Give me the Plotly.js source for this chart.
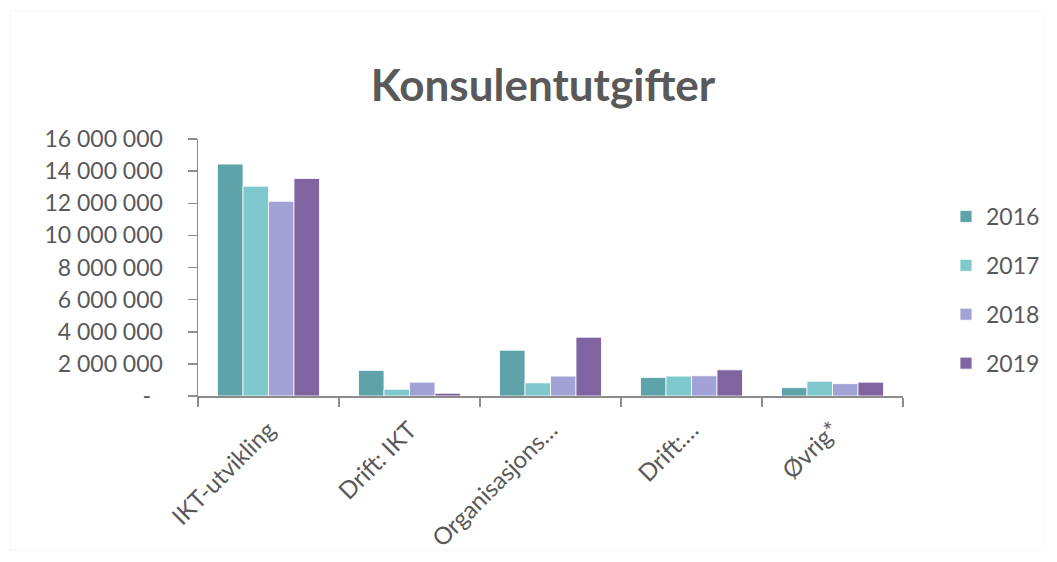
<!DOCTYPE html>
<html>
<head>
<meta charset="utf-8">
<script src="https://cdn.plot.ly/plotly-3.0.1.min.js"></script>
<style>html,body{margin:0;padding:0;background:#fff;}#chart{width:1057px;height:562px;}</style>
</head>
<body>
<div id="chart"></div>
<script>
const categories = ["IKT-utvikling", "Drift: IKT", "Organisasjons…", "Drift:…", "Øvrig*"];
const years = ["2016", "2017", "2018", "2019"];
const v2016 = [14440000, 1590000, 2850000, 1150000, 520000];
const v2017 = [13060000, 420000, 820000, 1240000, 920000];
const v2018 = [12120000, 860000, 1240000, 1260000, 770000];
const v2019 = [13540000, 170000, 3660000, 1630000, 860000];
const yTickVals = [0, 2000000, 4000000, 6000000, 8000000, 10000000, 12000000, 14000000, 16000000];
const yTickText = ["-\u00a0\u00a0", "2 000 000", "4 000 000", "6 000 000", "8 000 000", "10 000 000", "12 000 000", "14 000 000", "16 000 000"];

const colors = ["#5FA3AA", "#7FC8CD", "#A2A2D6", "#8064A2"];
const series = [v2016, v2017, v2018, v2019];
const font = "Lato, 'Open Sans', sans-serif";
const grey = "#595959";

const traces = series.map((vals, i) => ({
  type: "bar",
  name: years[i],
  x: categories,
  y: vals,
  legendgroup: years[i],
  marker: {color: colors[i], line: {color: "rgba(255,255,255,0.8)", width: 1}},
  hoverinfo: "x+y+name"
}));

const layout = {
  width: 1057,
  height: 562,
  margin: {l: 198, r: 154, t: 139, b: 166},
  paper_bgcolor: "#ffffff",
  plot_bgcolor: "#ffffff",
  barmode: "group",
  bargap: 0.277,
  bargroupgap: 0,
  font: {family: font, color: grey, size: 22},
  title: {
    text: "<b>Konsulentutgifter</b>",
    font: {family: font, size: 44, color: grey},
    x: 543 / 1057, xref: "container", xanchor: "center",
    y: 1 - 86 / 562, yref: "container", yanchor: "middle"
  },
  xaxis: {
    type: "category",
    tickson: "boundaries",
    ticks: "outside",
    ticklen: 9,
    tickwidth: 1.5,
    tickcolor: "#8C8C8C",
    showline: true,
    linecolor: "#8C8C8C",
    linewidth: 1.5,
    showgrid: false,
    tickangle: -45,
    ticklabelstandoff: 9,
    tickfont: {family: font, size: 24, color: grey},
    automargin: false
  },
  yaxis: {
    range: [0, 16000000],
    tickvals: yTickVals,
    ticktext: yTickText,
    ticks: "outside",
    ticklen: 9,
    tickwidth: 1.5,
    tickcolor: "#8C8C8C",
    showline: true,
    linecolor: "#8C8C8C",
    linewidth: 1.5,
    showgrid: false,
    zeroline: false,
    ticklabelstandoff: 20,
    tickfont: {family: font, size: 23, color: grey},
    automargin: false
  },
  showlegend: true,
  legend: {
    xref: "container", yref: "container",
    x: 946 / 1057, xanchor: "left",
    y: 1 - 290 / 562, yanchor: "middle",
    traceorder: "grouped",
    tracegroupgap: 16,
    font: {family: font, size: 23, color: grey},
    bgcolor: "rgba(0,0,0,0)"
  },
  shapes: [{
    type: "rect", xref: "paper", yref: "paper",
    x0: -188 / 705, x1: 1.2, y0: -154 / 257, y1: 1 + 128 / 257,
    line: {color: "#F6F6F6", width: 1}, fillcolor: "rgba(0,0,0,0)", layer: "below"
  }]
};

Plotly.newPlot("chart", traces, layout, {displayModeBar: false, staticPlot: true});
</script>
</body>
</html>
